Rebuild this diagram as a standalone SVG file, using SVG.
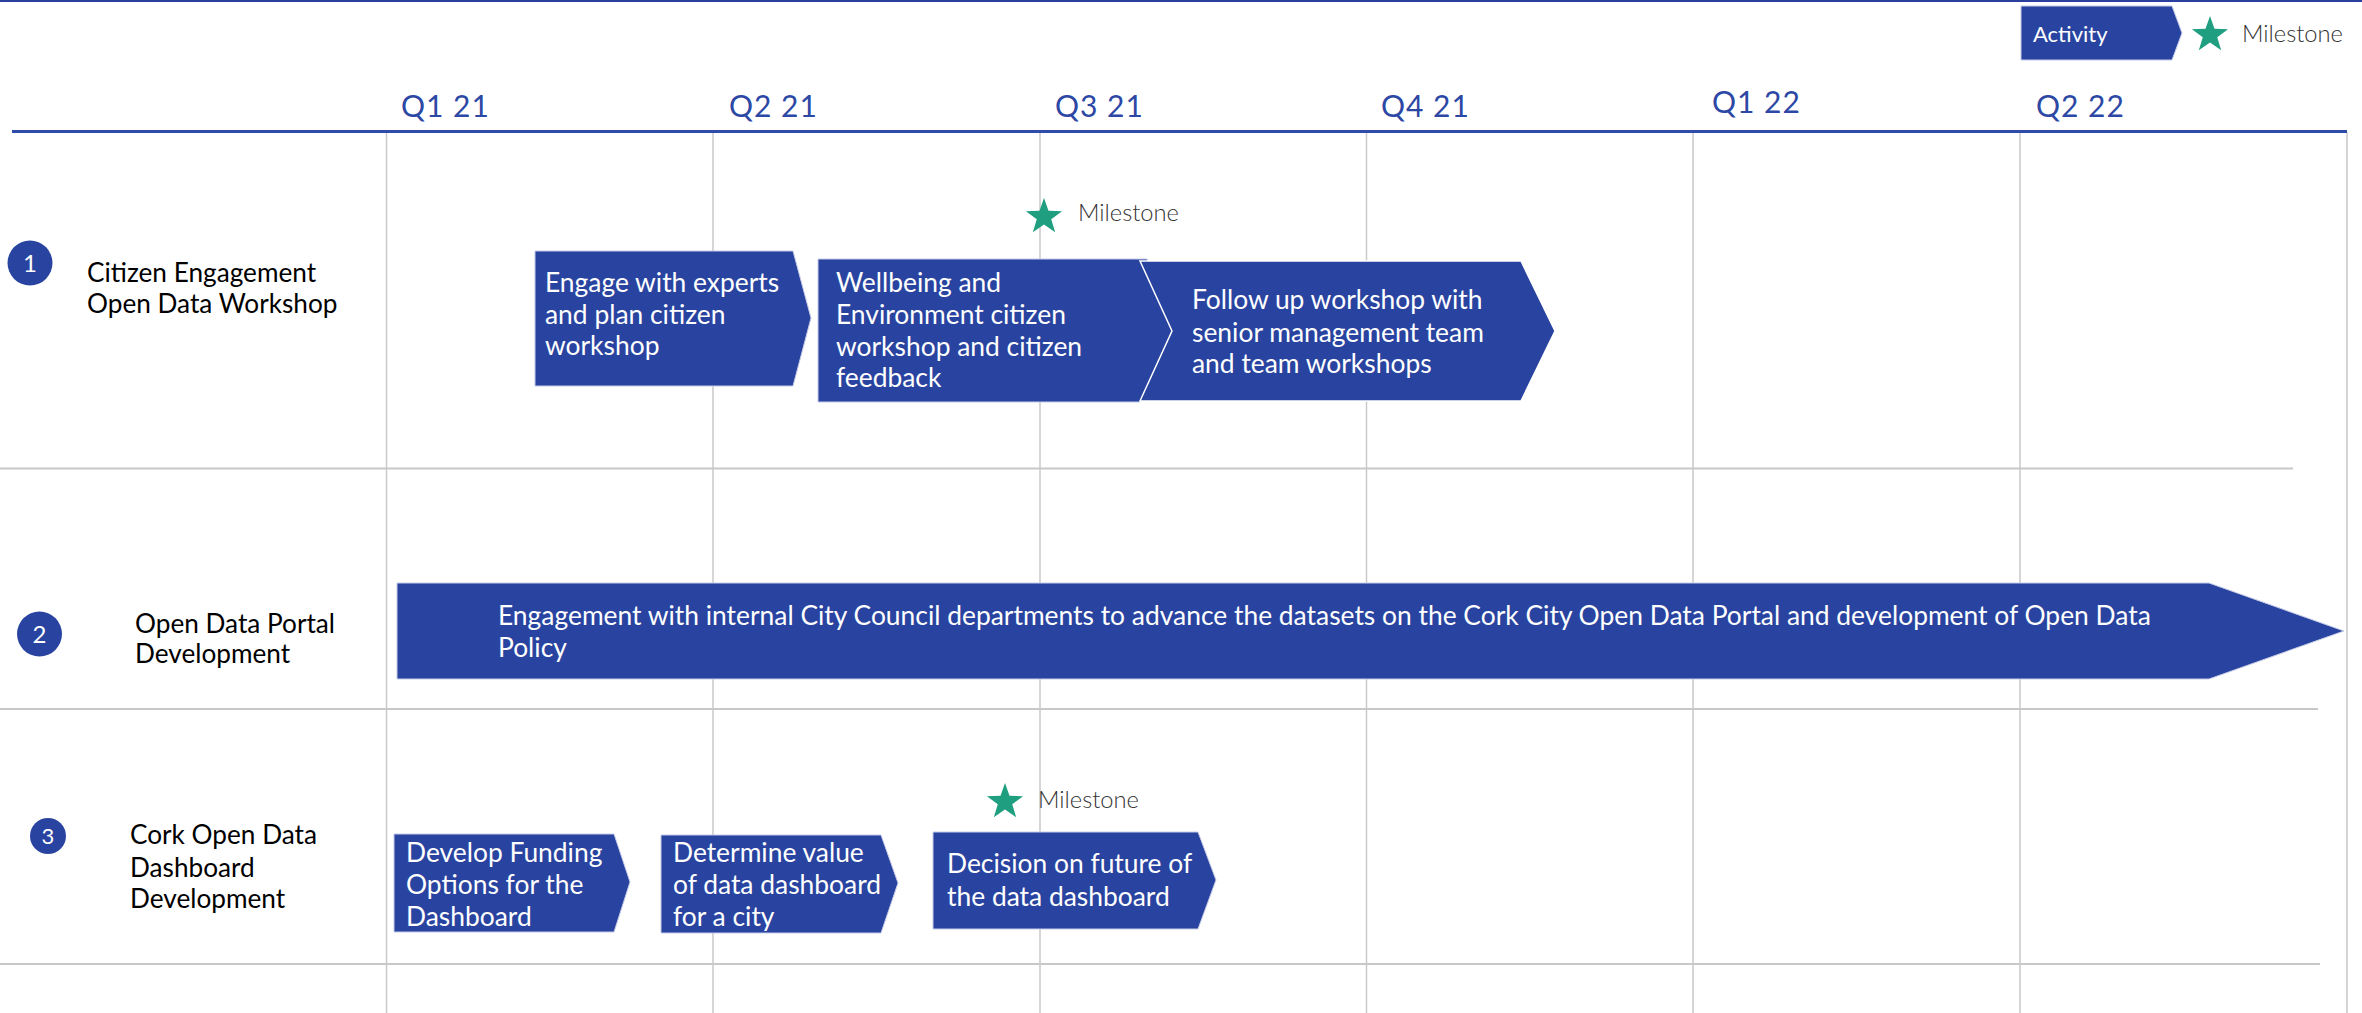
<svg xmlns="http://www.w3.org/2000/svg" width="2362" height="1013" viewBox="0 0 2362 1013">
<style>
.bg{fill:#ffffff}
.grid{stroke:#c9c9c9;stroke-width:1.5;fill:none}
.sep{stroke:#c8c8c8;stroke-width:2;fill:none}
.hdr{stroke:#2f4ca8;stroke-width:3;fill:none}
.q{font-family:Lato,"Liberation Sans",sans-serif;font-size:30px;letter-spacing:1px;fill:#2d47a5}
.act{fill:#2944a0;stroke:#c5cbe6;stroke-width:1}
.actw{fill:#2944a0;stroke:#ffffff;stroke-width:1.5}
.t{font-family:Lato,"Liberation Sans",sans-serif;font-size:26.4px;fill:#ffffff}
.lbl{font-family:Lato,"Liberation Sans",sans-serif;font-size:26.2px;fill:#000000}
.num{font-family:Lato,"Liberation Sans",sans-serif;font-size:24px;fill:#ffffff;text-anchor:middle}
.badge{fill:#2944a0}
.star{fill:#1f9e80}
.ms{font-family:Lato,"Liberation Sans",sans-serif;font-size:23.7px;font-weight:300;fill:#333333}
</style>
<defs>
<path id="star" d="M0,-19 L4.47,-6.15 L18.07,-5.87 L7.23,2.35 L11.17,15.37 L0,7.6 L-11.17,15.37 L-7.23,2.35 L-18.07,-5.87 L-4.47,-6.15 Z"/>
</defs>
<rect class="bg" x="0" y="0" width="2362" height="1013"/>
<rect x="0" y="0" width="2362" height="2" fill="#2b3f9e"/>

<g id="grid">
<line class="grid" x1="386.5" y1="132" x2="386.5" y2="1013"/>
<line class="grid" x1="713" y1="132" x2="713" y2="1013"/>
<line class="grid" x1="1040" y1="132" x2="1040" y2="1013"/>
<line class="grid" x1="1366.5" y1="132" x2="1366.5" y2="1013"/>
<line class="grid" x1="1693" y1="132" x2="1693" y2="1013"/>
<line class="grid" x1="2020" y1="132" x2="2020" y2="1013"/>
<line class="grid" x1="2347" y1="132" x2="2347" y2="1013"/>
<line class="sep" x1="0" y1="468.5" x2="2293" y2="468.5"/>
<line class="sep" x1="0" y1="709" x2="2318" y2="709"/>
<line class="sep" x1="0" y1="964" x2="2320" y2="964"/>
<line class="hdr" x1="12" y1="131.5" x2="2347" y2="131.5"/>
</g>

<g id="quarters">
<text class="q" x="401" y="117">Q1 21</text>
<text class="q" x="729" y="117">Q2 21</text>
<text class="q" x="1055" y="117">Q3 21</text>
<text class="q" x="1381" y="117">Q4 21</text>
<text class="q" x="1712" y="113">Q1 22</text>
<text class="q" x="2036" y="117">Q2 22</text>
</g>

<g id="legend">
<polygon class="act" points="2021,6 2172,6 2182,33 2172,60 2021,60"/>
<text class="t" x="2033" y="42" style="font-size:22px">Activity</text>
<use href="#star" class="star" transform="translate(2210,35)"/>
<text class="ms" x="2242" y="42">Milestone</text>
</g>

<g id="row1-label">
<circle class="badge" cx="30" cy="263" r="22.5"/>
<text class="num" x="30" y="272">1</text>
<text class="lbl" x="87" y="282">Citizen Engagement</text>
<text class="lbl" x="87" y="313">Open Data Workshop</text>
</g>

<g id="row2-label">
<circle class="badge" cx="39.5" cy="634" r="22.5"/>
<text class="num" x="39.5" y="643">2</text>
<text class="lbl" x="135" y="633">Open Data Portal</text>
<text class="lbl" x="135" y="663">Development</text>
</g>

<g id="row3-label">
<circle class="badge" cx="48" cy="836" r="18"/>
<text class="num" x="48" y="844" style="font-size:22px">3</text>
<text class="lbl" x="130" y="844">Cork Open Data</text>
<text class="lbl" x="130" y="877">Dashboard</text>
<text class="lbl" x="130" y="908">Development</text>
</g>

<g id="act-engage-experts">
<polygon class="act" points="535,251 793,251 811,318 793,386 535,386"/>
<text class="t" x="545" y="292">Engage with experts</text>
<text class="t" x="545" y="323.5">and plan citizen</text>
<text class="t" x="545" y="355">workshop</text>
</g>

<g id="act-wellbeing">
<polygon class="act" points="818,259 1147,259 1172,331 1140,402 818,402"/>
<text class="t" x="836" y="292">Wellbeing and</text>
<text class="t" x="836" y="324">Environment citizen</text>
<text class="t" x="836" y="356">workshop and citizen</text>
<text class="t" x="836" y="387">feedback</text>
</g>

<g id="act-followup">
<polygon class="actw" points="1140,261 1521,261 1555,331 1521,401 1140,401 1172,331"/>
<text class="t" x="1192" y="309">Follow up workshop with</text>
<text class="t" x="1192" y="341.5">senior management team</text>
<text class="t" x="1192" y="373">and team workshops</text>
</g>

<g id="milestone-1">
<use href="#star" class="star" transform="translate(1044,217)"/>
<text class="ms" x="1078" y="221">Milestone</text>
</g>

<g id="act-portal">
<polygon class="act" points="397,583 2209,583 2344,631 2209,679 397,679"/>
<text class="t" x="498" y="625">Engagement with internal City Council departments to advance the datasets on the Cork City Open Data Portal and development of Open Data</text>
<text class="t" x="498" y="657">Policy</text>
</g>

<g id="act-funding">
<polygon class="act" points="394,834 614,834 630,882 614,932 394,932"/>
<text class="t" x="406" y="862">Develop Funding</text>
<text class="t" x="406" y="893.5">Options for the</text>
<text class="t" x="406" y="925.5">Dashboard</text>
</g>

<g id="act-value">
<polygon class="act" points="661,835 881,835 898,883 881,933 661,933"/>
<text class="t" x="673" y="862">Determine value</text>
<text class="t" x="673" y="894">of data dashboard</text>
<text class="t" x="673" y="926">for a city</text>
</g>

<g id="act-decision">
<polygon class="act" points="933,832 1198,832 1216,880 1198,929 933,929"/>
<text class="t" x="947" y="873">Decision on future of</text>
<text class="t" x="947" y="906">the data dashboard</text>
</g>

<g id="milestone-3">
<use href="#star" class="star" transform="translate(1005,802)"/>
<text class="ms" x="1038" y="808">Milestone</text>
</g>

<g id="connectors"></g>
</svg>
